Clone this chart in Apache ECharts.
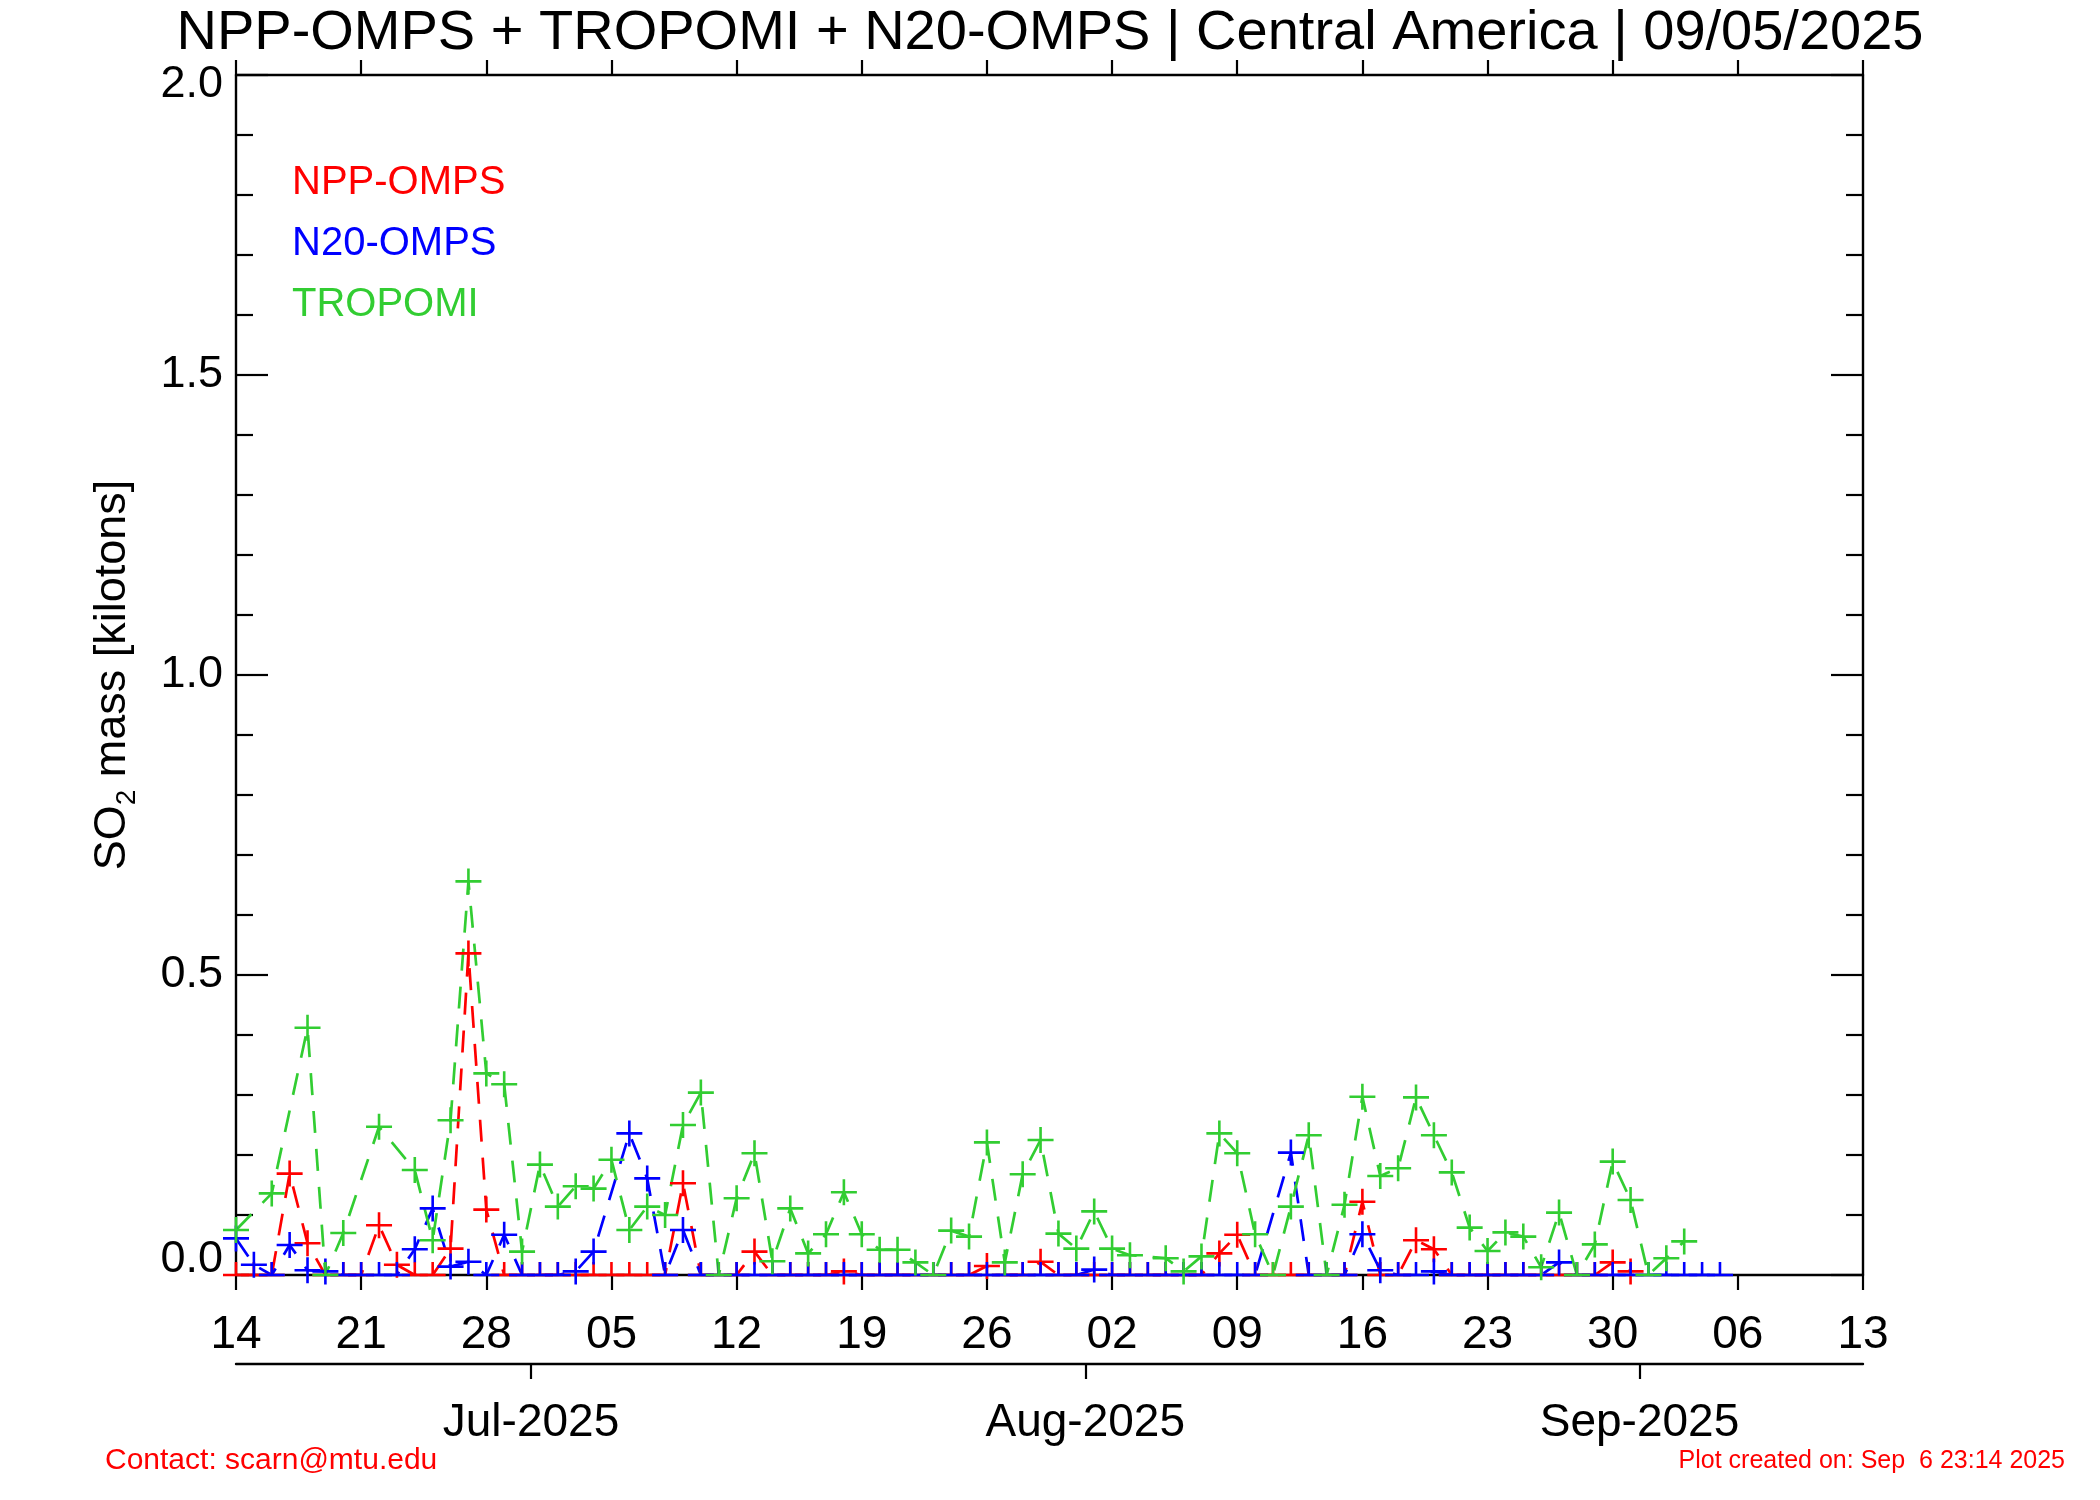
<!DOCTYPE html>
<html><head><meta charset="utf-8">
<script src="https://cdn.jsdelivr.net/npm/echarts@6/dist/echarts.min.js"></script>
<style>html,body{margin:0;padding:0;background:#fff}#c{width:2100px;height:1500px}</style>
</head><body><div id="c"></div>
<script>
// x = day index, day 0 = 14 Jun 2025
const xTickLabels = ['14','21','28','05','12','19','26','02','09','16','23','30','06','13'];
const monthLabels = ['Jul-2025','Aug-2025','Sep-2025'];
const monthTickDays = [16.5, 47.5, 78.5];
const yTickLabels = ['0.0','0.5','1.0','1.5','2.0'];
const seriesNames = ['NPP-OMPS','N20-OMPS','TROPOMI'];

const nppOmps = [
  0,0,0,0.169,0.053,0,0,0,0.083,0.017,
  0,0,0.044,0.536,0.109,0,0,0,0,0,
  0,0,0,0,0,0.153,0,0,0,0.039,
  0,0,0,0,0.006,0,0,0,0,0,
  0,0,0.015,0,0,0.022,0,0,0,0,
  0,0,0,0,0,0.036,0.067,0,0,0,
  0,0,0,0.122,0,0,0.058,0.043,0,0,
  0,0,0,0,0,0,0,0.021,0.006
];
const n20Omps = [
  0.061,0.017,0,0.050,0.008,0.006,0,0,0,0,
  0.043,0.111,0.014,0.022,0,0.067,0,0,0,0.006,
  0.039,null,0.236,0.161,0,0.075,0,0,0,0,
  0,0,0,0,0,0,0,0,0,0,
  0,0,0,0,0,0,0,0,0.009,0,
  0,0,0,0,0,0,0,0,null,0.204,
  0,0,0,0.068,0.008,0,0,0.006,0,0,
  0,0,0,0,0.021,0,0,0,0,0,
  0,0,0,0
];
const tropomi = [
  0.075,null,0.136,null,0.412,0,0.070,null,0.247,null,
  0.175,0.058,0.258,0.656,0.336,0.318,0.039,0.184,0.114,0.148,
  0.144,0.192,0.075,0.114,0.100,0.250,0.304,0,0.128,0.203,
  0.023,0.111,0.036,0.068,0.138,0.068,0.042,0.042,0.021,0,
  0.074,0.064,0.221,0.021,0.168,0.225,0.069,0.044,0.106,0.044,
  0.033,null,0.028,0.006,0.031,0.236,0.203,0.068,0,0.114,
  0.233,0,0.117,0.297,0.165,0.178,0.296,0.233,0.171,0.079,
  0.040,0.071,0.064,0.013,0.104,0,0.051,0.189,0.125,0,
  0.028,0.056
];

const FONT = "'Liberation Sans', Arial, Helvetica, sans-serif";
const PLUS = 'path://M-0.1,-1H0.1V1H-0.1Z M-1,-0.1H1V0.1H-1Z';
const HALF = 'path://M-0.1,-1H0.1V0H-0.1Z M-1,-0.1H1V0.1H-1Z';
const SYM = 26;

function toData(vals) {
  return vals.map((v, i) => {
    if (v === null) return { value: [i, '-'] };
    if (v === 0) return { value: [i, 0], symbol: HALF, symbolSize: [SYM, SYM * 0.55], symbolOffset: [0, -0.45 * SYM / 2] };
    return { value: [i, v] };
  });
}
function mkSeries(name, vals, color) {
  return {
    name, type: 'line', data: toData(vals), connectNulls: true,
    symbol: PLUS, symbolSize: SYM, showSymbol: true, showAllSymbol: true,
    lineStyle: { color, width: 2.7, type: [22, 16] },
    itemStyle: { color, borderWidth: 0 },
    emphasis: { disabled: true }, animation: false, clip: true
  };
}

const axisLineStyle = { color: '#000', width: 2.4 };
const tickStyle = { color: '#000', width: 2.2 };
const chart = echarts.init(document.getElementById('c'), null, { renderer: 'canvas' });
chart.setOption({
  backgroundColor: '#fff',
  animation: false,
  title: [
    { text: 'NPP-OMPS + TROPOMI + N20-OMPS | Central America | 09/05/2025', left: 'center', top: 6, padding: 0,
      textStyle: { fontFamily: FONT, fontSize: 56, fontWeight: 'normal', color: '#000', lineHeight: 56 } },
    { text: 'Contact: scarn@mtu.edu', left: 105, top: 1446, padding: 0,
      textStyle: { fontFamily: FONT, fontSize: 30, fontWeight: 'normal', color: '#ff0000', lineHeight: 30 } },
    { text: 'Plot created on: Sep  6 23:14 2025', right: 35, top: 1449, padding: 0,
      textStyle: { fontFamily: FONT, fontSize: 25, fontWeight: 'normal', color: '#ff0000', lineHeight: 25 } }
  ],
  legend: {
    orient: 'vertical', left: 282, top: 158, itemGap: 21, itemWidth: 0, itemHeight: 40,
    icon: 'rect', itemStyle: { opacity: 0 }, selectedMode: false,
    textStyle: { fontFamily: FONT, fontSize: 40, lineHeight: 40 },
    data: [
      { name: seriesNames[0], textStyle: { color: '#ff0000' } },
      { name: seriesNames[1], textStyle: { color: '#0000ff' } },
      { name: seriesNames[2], textStyle: { color: '#32cd32' } }
    ]
  },
  grid: { left: 236, right: 237, top: 75, bottom: 225, containLabel: false, outerBoundsMode: 'none' },
  xAxis: [
    { type: 'value', position: 'bottom', min: 0, max: 91, interval: 7,
      axisLine: { show: true, onZero: false, lineStyle: axisLineStyle },
      axisTick: { show: true, inside: false, length: 15, lineStyle: tickStyle },
      axisLabel: { show: true, margin: 37, color: '#000', fontFamily: FONT, fontSize: 46, lineHeight: 46,
        formatter: v => xTickLabels[Math.round(v / 7)] },
      splitLine: { show: false } },
    { type: 'value', position: 'top', min: 0, max: 91, interval: 7,
      axisLine: { show: true, onZero: false, lineStyle: axisLineStyle },
      axisTick: { show: true, inside: false, length: 15, lineStyle: tickStyle },
      axisLabel: { show: false }, splitLine: { show: false } },
    { type: 'value', position: 'bottom', offset: 89, min: 0, max: 91,
      axisLine: { show: true, onZero: false, lineStyle: axisLineStyle },
      axisTick: { show: true, inside: false, length: 15, customValues: monthTickDays, lineStyle: tickStyle },
      axisLabel: { show: true, margin: 36, color: '#000', fontFamily: FONT, fontSize: 46, lineHeight: 46,
        customValues: monthTickDays, formatter: v => monthLabels[monthTickDays.indexOf(v)] || '' },
      splitLine: { show: false } }
  ],
  yAxis: [
    { type: 'value', position: 'left', min: 0, max: 2, interval: 0.5,
      name: '{a|SO}{b|2}{a| mass [kilotons]}', nameLocation: 'middle', nameGap: 95, nameRotate: 90,
      nameTextStyle: { rich: {
        a: { fontFamily: FONT, fontSize: 45, color: '#000', lineHeight: 56 },
        b: { fontFamily: FONT, fontSize: 28, color: '#000', lineHeight: 30, verticalAlign: 'bottom' } } },
      axisLine: { show: true, onZero: false, lineStyle: axisLineStyle },
      axisTick: { show: true, inside: true, length: 32, lineStyle: tickStyle },
      minorTick: { show: true, splitNumber: 5, length: 17, lineStyle: tickStyle },
      axisLabel: { show: true, margin: 13, color: '#000', fontFamily: FONT, fontSize: 45,
        formatter: v => {
          const s = yTickLabels[Math.round(v / 0.5)];
          if (v === 0) return '{lo|' + s + '}';
          if (v === 2) return '{hi|' + s + '}';
          return s;
        },
        rich: {
          lo: { fontFamily: FONT, fontSize: 45, color: '#000', padding: [0, 0, 30, 0] },
          hi: { fontFamily: FONT, fontSize: 45, color: '#000', padding: [20, 0, 0, 0] }
        } },
      splitLine: { show: false } },
    { type: 'value', position: 'right', min: 0, max: 2, interval: 0.5,
      axisLine: { show: true, onZero: false, lineStyle: axisLineStyle },
      axisTick: { show: true, inside: true, length: 32, lineStyle: tickStyle },
      minorTick: { show: true, splitNumber: 5, length: 17, lineStyle: tickStyle },
      axisLabel: { show: false }, splitLine: { show: false } }
  ],
  series: [
    mkSeries(seriesNames[0], nppOmps, '#ff0000'),
    mkSeries(seriesNames[1], n20Omps, '#0000ff'),
    mkSeries(seriesNames[2], tropomi, '#32cd32')
  ]
});
</script></body></html>
